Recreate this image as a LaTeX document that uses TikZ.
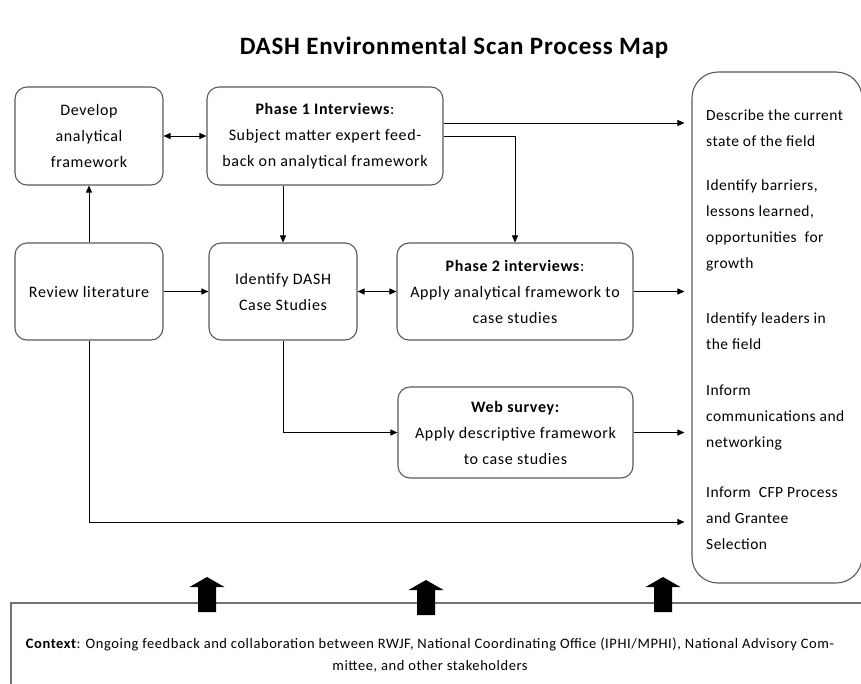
\documentclass[tikz,border=0pt]{standalone}
\usepackage{fontspec}
\setmainfont{Carlito}
\usetikzlibrary{arrows.meta,calc}
\begin{document}
\begin{tikzpicture}[x=1pt,y=-1pt,
  boxfont/.style={font=\fontsize{16}{26}\selectfont\addfontfeature{LetterSpace=4}},
  boxstyle/.style={draw=black!65, line width=1.1pt, rounded corners=12pt, align=center,
     boxfont, inner sep=0pt},
  conn/.style={draw=black, line width=0.9pt, -{Triangle[length=7pt,width=6pt]}},
  dconn/.style={draw=black, line width=0.9pt, {Triangle[length=7pt,width=6pt]}-{Triangle[length=7pt,width=6pt]}},
  outtext/.style={anchor=west, align=left, font=\fontsize{15.5}{26}\selectfont\addfontfeature{LetterSpace=3}, inner sep=0pt},
  uparrow/.pic={\fill[black] (-9,0) -- (-9,-25) -- (-17.5,-25) -- (0,-35) -- (17.5,-25) -- (9,-25) -- (9,0) -- cycle;}
]
\useasboundingbox (0,0) rectangle (861,683);
\begin{scope}
\clip (0,0) rectangle (861,683);

\node[font=\fontsize{25}{28}\selectfont\bfseries\addfontfeature{LetterSpace=3}] (title) at (454,48) {DASH Environmental Scan Process Map};

\node[boxstyle, minimum width=148, minimum height=98] (dev) at (89,136) {Develop\\analytical\\framework};
\node[boxstyle, minimum width=236, minimum height=98] (p1) at (325,136) {\textbf{Phase 1 Interviews}:\\Subject matter expert feed-\\back on analytical framework};
\node[boxstyle, minimum width=148, minimum height=97] (rev) at (89,291.5) {Review literature};
\node[boxstyle, minimum width=148, minimum height=97] (ids) at (283,291.5) {Identify DASH\\Case Studies};
\node[boxstyle, minimum width=236, minimum height=97] (p2) at (515,291.5) {\textbf{Phase 2 interviews}:\\Apply analytical framework to\\case studies};
\node[boxstyle, minimum width=235, minimum height=91] (web) at (515.5,432.5) {\textbf{Web survey:}\\Apply descriptive framework\\to case studies};

\node[draw=black!65, line width=1.1pt, rounded corners=26pt, minimum width=170, minimum height=511, inner sep=0pt] (out) at (777,327.5) {};
\node[outtext] (o1) at (706,128) {Describe the current\\state of the field};
\node[outtext] (o2) at (706,225) {Identify barriers,\\lessons learned,\\opportunities\ \ for\\growth};
\node[outtext] (o3) at (706,331) {Identify leaders in\\the field};
\node[outtext] (o4) at (706,418) {Inform\\communications and\\networking};
\node[outtext] (o5) at (706,518) {Inform\ \ CFP Process\\and Grantee\\Selection};

\node[draw=black!55, line width=1.4pt, minimum width=880, minimum height=120, inner sep=0pt] (ctxbox) at (451,663) {};
\node[align=center, font=\fontsize{14.5}{22}\selectfont\addfontfeature{LetterSpace=4}, inner sep=0pt] (ctx) at (430,655)
  {\textbf{Context}: Ongoing feedback and collaboration between RWJF, National Coordinating Office (IPHI/MPHI), National Advisory Com-\\mittee, and other stakeholders};

\pic at (207,612) {uparrow};
\pic at (426,615) {uparrow};
\pic at (663,612) {uparrow};

\coordinate (p1a) at ($(p1.east)+(0,-13)$);
\coordinate (reva) at ($(out.west)+(0,194.5)$);

\draw[dconn] (dev.east) -- (p1.west);
\draw[conn] (rev.north) -- (dev.south);
\draw[conn] (ids.north |- p1.south) -- (ids.north);
\draw[conn, shorten >=7pt] (p1a) -- (p1a -| out.west);
\draw[conn] (p1.east) -| (p2.north);
\draw[conn] (rev.east) -- (ids.west);
\draw[dconn] (ids.east) -- (p2.west);
\draw[conn, shorten >=7pt] (p2.east) -- (p2.east -| out.west);
\draw[conn] (ids.south) |- (web.west);
\draw[conn, shorten >=7pt] (web.east) -- (web.east -| out.west);
\draw[conn, shorten >=7pt] (rev.south) |- (reva);
\end{scope}
\end{tikzpicture}
\end{document}
